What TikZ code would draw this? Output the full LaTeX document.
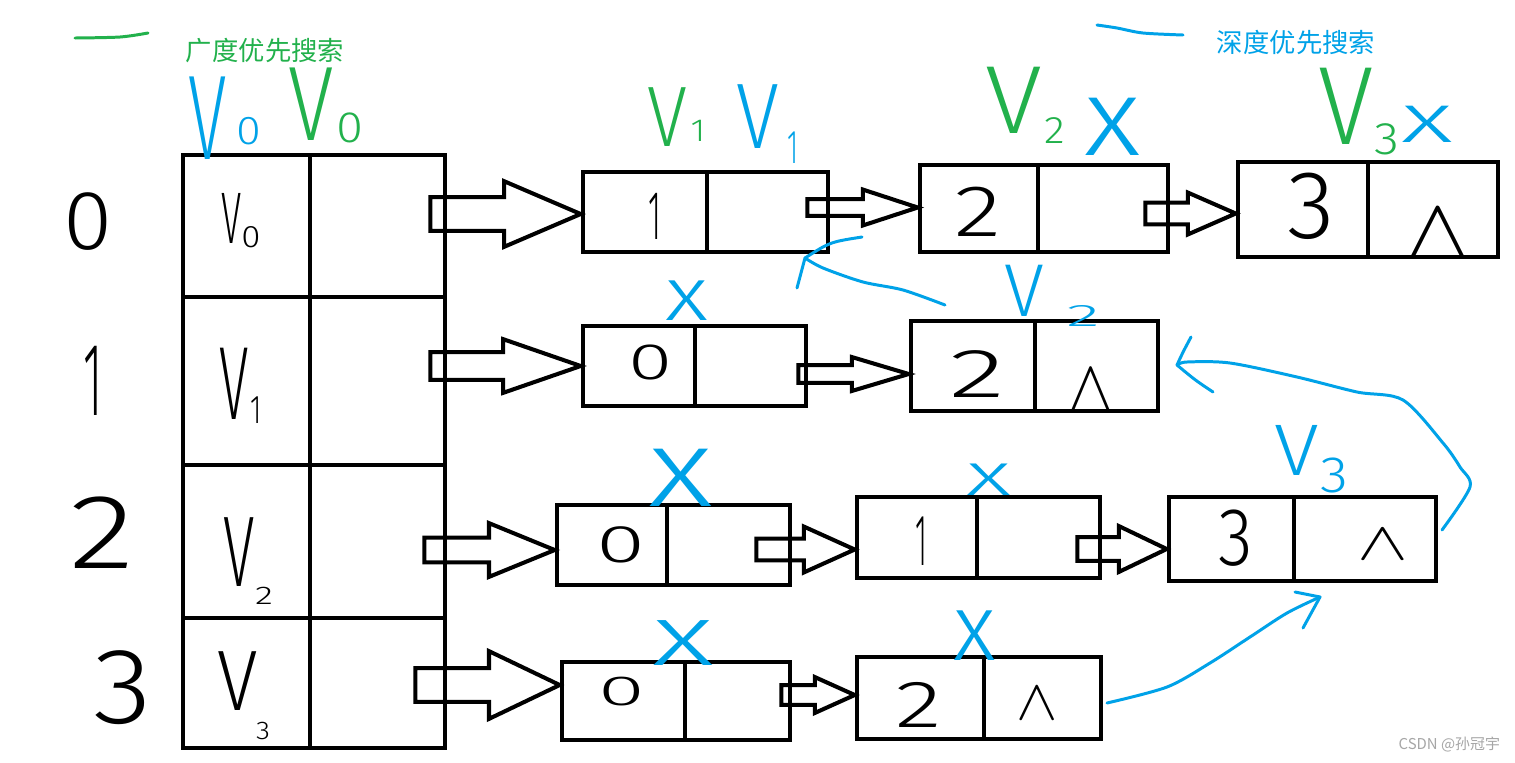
\documentclass[tikz,border=0pt]{standalone}
\usepackage{fontspec}
\usepackage{graphicx}
\setmainfont{Liberation Sans}
\def\hfac{1}\def\wfac{1}
\IfFontExistsTF{Fira Sans Light}{\newfontfamily\hwf{Fira Sans Light}\def\hfac{1.04}\def\wfac{1.12}}{%
 \IfFontExistsTF{Open Sans Light}{\newfontfamily\hwf{Open Sans Light}}{%
  \IfFontExistsTF{Lato Light}{\newfontfamily\hwf{Lato Light}}{%
   \newfontfamily\hwf{Liberation Sans}}}}
\newfontfamily\cjk{Noto Sans CJK SC}
\usetikzlibrary{calc,fit}
\definecolor{pgreen}{RGB}{34,177,76}
\definecolor{pblue}{RGB}{0,162,232}
\newcommand{\tx}[3]{\pgfmathsetmacro\fsz{#1*\hfac}\pgfmathsetmacro\fxs{#2*\wfac}\scalebox{\fxs}[1]{\fontsize{\fsz}{\fsz}\selectfont #3}}
% null pointer mark: width px, height px
\newcommand{\nul}[2]{\pgfmathsetmacro\nxs{#1/9.9}\pgfmathsetmacro\nys{#2/9.8}\scalebox{\nxs}[\nys]{$\wedge$}}
\newcommand{\lbox}[6]{%
  \node[cell, fit={(#2,#5)(#3,#6)}] (#1l) {};
  \node[cell, fit={(#3,#5)(#4,#6)}] (#1r) {};}
\newcommand{\barrow}[5]{%
  \draw[blk] let \p1=#1, \p2=#2 in
   (\x1,{\y2+#3*0.5669pt}) -- ({\x2-#5*0.5669pt},{\y2+#3*0.5669pt})
   -- ({\x2-#5*0.5669pt},{\y2+#4*0.5669pt}) -- (\p2)
   -- ({\x2-#5*0.5669pt},{\y2-#4*0.5669pt}) -- ({\x2-#5*0.5669pt},{\y2-#3*0.5669pt})
   -- (\x1,{\y2-#3*0.5669pt}) -- cycle;}
\begin{document}
\begin{tikzpicture}[x=0.02cm,y=-0.02cm,
  cell/.style={draw, line width=2.6pt, inner sep=0pt},
  blk/.style={draw, line width=2.3pt, line join=miter},
  bl/.style={draw=pblue, line width=1.7pt, line cap=round, line join=round},
  gr/.style={draw=pgreen, line width=1.7pt, line cap=round, line join=round},
  hw/.style={inner sep=0pt, outer sep=0pt, font=\hwf},
  hb/.style={hw, text=pblue},
  hg/.style={hw, text=pgreen}]
\useasboundingbox[fill=white] (0,0) rectangle (1515,762);
% main table
\lbox{t0}{183}{310}{445}{155}{297}
\lbox{t1}{183}{310}{445}{297}{465}
\lbox{t2}{183}{310}{445}{465}{618}
\lbox{t3}{183}{310}{445}{618}{748}
% list nodes
\lbox{r0a}{583}{707}{828}{172}{252}
\lbox{r0b}{920}{1038}{1168}{165}{252}
\lbox{r0c}{1238}{1368}{1498}{162}{257}
\lbox{r1a}{583}{695}{806}{326}{406}
\lbox{r1b}{911}{1035}{1158}{321}{411}
\lbox{r2a}{557}{667}{790}{505}{585}
\lbox{r2b}{857}{977}{1100}{497}{578}
\lbox{r2c}{1169}{1294}{1436}{497}{581}
\lbox{r3a}{562}{685}{790}{662}{740}
\lbox{r3b}{857}{984}{1101}{657}{739}
% block arrows from table
\barrow{($(t0r.east)+(-17,0)$)}{($(r0al.west)+(0,2)$)}{17}{33}{77}
\barrow{($(t1r.east)+(-17,0)$)}{(r1al.west)}{14}{27}{78}
\barrow{($(t2r.east)+(-23,0)$)}{($(r2al.west)+(0,5)$)}{12.5}{27}{66}
\barrow{($(t3r.east)+(-32,0)$)}{($(r3al.west)+(0,-16)$)}{17}{34}{71}
% small arrows between list nodes
\barrow{($(r0ar.east)+(-23,0)$)}{($(r0bl.west)+(0,-1)$)}{8.5}{18}{55}
\barrow{($(r0br.east)+(-25,0)$)}{($(r0cl.west)+(0,4)$)}{11}{21}{48}
\barrow{($(r1ar.east)+(-10,0)$)}{($(r1bl.west)+(0,8)$)}{9}{17}{57}
\barrow{($(r2ar.east)+(-36,0)$)}{($(r2bl.west)+(0,12)$)}{11}{23}{51}
\barrow{($(r2br.east)+(-25,0)$)}{($(r2cl.west)+(0,10)$)}{12}{23}{48}
\barrow{($(r3ar.east)+(-11,0)$)}{($(r3bl.west)+(0,-3)$)}{10}{18}{40}
% row labels
\node[hw] (lab0) at (88,222) {\tx{46}{0.95}{0}};
\node[hw] (lab1) at (93,381) {\tx{57}{0.4}{1}};
\node[hw] (lab2) at (102,533) {\tx{58}{1.15}{2}};
\node[hw] (lab3) at (123,688) {\tx{59}{1}{3}};
% cell vertex labels
\node[hw] (cv0) at (232,218) {\tx{40}{0.45}{V}};
\node[hw] (cv0s) at (251,237) {\tx{17}{1}{0}};
\node[hw] (cv1) at (234,384) {\tx{57}{0.46}{V}};
\node[hw] (cv1s) at (256,410) {\tx{22}{0.6}{1}};
\node[hw] (cv2) at (239,552) {\tx{55}{0.51}{V}};
\node[hw] (cv2s) at (264,596) {\tx{14}{1.3}{2}};
\node[hw] (cv3) at (238,681) {\tx{47}{0.77}{V}};
\node[hw] (cv3s) at (263,731) {\tx{14}{1}{3}};
% node contents
\node[hw] (d0a) at (655,216) {\tx{38}{0.4}{1}};
\node[hw] (d0b) at (978,212) {\tx{40}{1.2}{2}};
\node[hw] (d0c) at (1311,206) {\tx{53}{0.9}{3}};
\node[hw] (n0c) at (1438,234) {\nul{55}{48}};
\node[hw] (d1a) at (651,362) {\tx{28}{1.4}{0}};
\node[hw] (d1b) at (977,374) {\tx{38}{1.5}{2}};
\node[hw] (n1b) at (1091,390) {\nul{38}{40}};
\node[hw] (d2a) at (621,545) {\tx{29}{1.5}{0}};
\node[hw] (d2b) at (921,541) {\tx{40}{0.35}{1}};
\node[hw] (d2c) at (1236,538) {\tx{45}{0.77}{3}};
\node[hw] (n2c) at (1383,545) {\nul{43}{30}};
\node[hw] (d3a) at (622,692) {\tx{23}{1.8}{0}};
\node[hw] (d3b) at (919,705) {\tx{36.5}{1.3}{2}};
\node[hw] (n3b) at (1037,704) {\nul{35}{32}};
% green annotations
\draw[gr] plot[smooth] coordinates {(75,38) (120,37) (148,33)};
\node[hg, font=\cjk] (bfs) at (265,51) {\fontsize{15}{15}\selectfont 广度优先搜索};
\node[hg] (gV0) at (311,104) {\tx{58}{0.7}{V}};
\node[hg] (gV0s) at (350,128) {\tx{24}{1}{0}};
\node[hg] (gV1) at (667,117) {\tx{47}{0.76}{V}};
\node[hg] (gV1s) at (698,131) {\tx{17.5}{1}{1}};
\node[hg] (gV2) at (1014,100) {\tx{53}{0.96}{V}};
\node[hg] (gV2s) at (1055,131) {\tx{21}{1}{2}};
\node[hg] (gV3) at (1346,106) {\tx{61}{0.81}{V}};
\node[hg] (gV3s) at (1387,139) {\tx{25}{1}{3}};
% blue annotations
\draw[bl] plot[smooth] coordinates {(1097,25) (1117,28) (1143,33) (1183,35)};
\node[hb, font=\cjk] (dfs) at (1296,42) {\fontsize{15}{15}\selectfont 深度优先搜索};
\node[hb] (bV0) at (208,118) {\tx{66}{0.52}{V}};
\node[hb] (bV0s) at (249,131) {\tx{22}{1}{0}};
\node[hb] (bV1) at (758,117) {\tx{51}{0.75}{V}};
\node[hb] (bV1s) at (793,148) {\tx{26}{0.5}{1}};
\node[hb] (bx0b) at (1113,127) {\tx{60}{1}{x}};
\node[hb] (bx0c) at (1427,124) {\tx{38}{1.45}{x}};
\node[hb] (bx1a) at (687,301) {\tx{41.5}{1.1}{x}};
\node[hb] (bV2) at (1024,291) {\tx{41}{0.87}{V}};
\node[hb] (bV2s) at (1083,316) {\tx{17}{2}{2}};
\node[hb] (bx2a) at (681,478) {\tx{60}{1.15}{x}};
\node[hb] (bx2b) at (989,480) {\tx{33}{1.45}{x}};
\node[hb] (bV3) at (1297,450) {\tx{40}{1}{V}};
\node[hb] (bV3s) at (1334,475) {\tx{28}{1}{3}};
\node[hb] (bx3a) at (683,643) {\tx{47}{1.4}{x}};
\node[hb] (bx3b) at (975,636) {\tx{52}{0.87}{x}};
% blue curved arrows
\coordinate (c1s) at (945,305);
\coordinate (c1e) at (805,258);
\draw[bl] plot[smooth] coordinates {(c1s) (903,290) (863,282) (823,268) (c1e)};
\draw[bl] (862,237) .. controls (830,242) .. (c1e) -- (797,288);
\coordinate (c2s) at (1442,530);
\coordinate (c2e) at (1177,365);
\draw[bl] plot[smooth] coordinates {(c2s) (1470,487) (1460,467) (1443,443) (1403,400) (1357,392) (1297,377) (1230,363) (1187,362) (c2e)};
\draw[bl] (1191,337) .. controls (1183,352) .. (c2e) .. controls (1195,380) .. (1213,392);
\coordinate (c3s) at (1107,703);
\coordinate (c3e) at (1320,597);
\draw[bl] plot[smooth] coordinates {(c3s) (1167,687) (1210,663) (1250,637) (1287,613) (c3e)};
\draw[bl] (1295,592) -- (c3e) -- (1303,628);
% watermark
\node[hw, font=\cjk, text=black!35, anchor=east] (wm) at (1500,745) {\fontsize{8.5}{8.5}\selectfont CSDN @孙冠宇};
\end{tikzpicture}
\end{document}
